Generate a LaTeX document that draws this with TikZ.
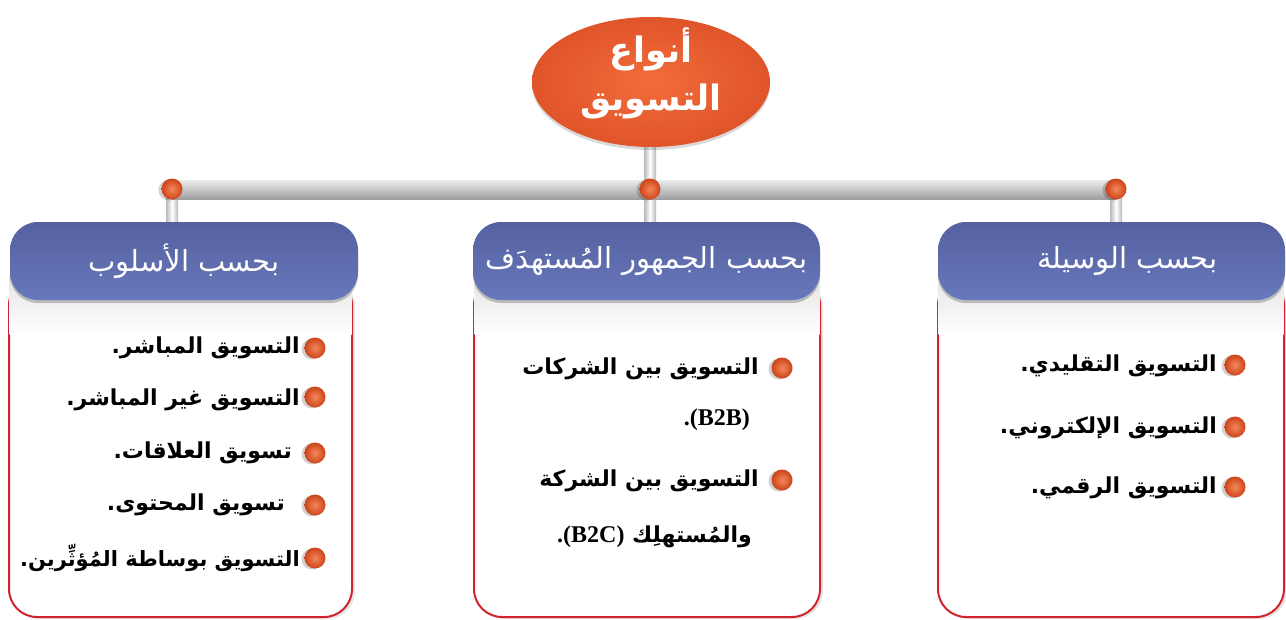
\documentclass[tikz,border=0pt]{standalone}
\usepackage{fontspec}
\usetikzlibrary{shapes.geometric,backgrounds,calc,shadows}
\TeXXeTstate=1
\newfontfamily\arfont[Script=Arabic]{DejaVu Sans}
\newfontfamily\latfont{Liberation Serif}
\definecolor{orangeL}{HTML}{F26C3A}
\definecolor{orangeD}{HTML}{E0542A}
\definecolor{hdrtop}{HTML}{55619F}
\definecolor{hdrbot}{HTML}{6878BC}
\definecolor{boxred}{HTML}{D2232E}
\definecolor{dotL}{HTML}{F5875A}
\definecolor{dotD}{HTML}{CC4419}
\tikzset{
  hdr/.style={draw=none, rounded corners=28pt, minimum width=347pt, minimum height=78pt,
    top color=hdrtop, bottom color=hdrbot,
    general shadow={fill=black, opacity=.22, shadow yshift=-3pt}},
  hdrtxt/.style={text=white, inner sep=0pt, font=\arfont\fontsize{29}{34}\selectfont},
  cbox/.style={draw=boxred, line width=2pt, fill=white, rounded corners=28pt,
    minimum width=346pt, minimum height=340pt,
    general shadow={fill=black, opacity=.10, shadow xshift=3pt, shadow yshift=-2pt}},
  dotn/.style={circle, minimum size=21pt, inner sep=0pt, inner color=dotL, outer color=dotD,
    general shadow={fill=black, opacity=.18, shadow xshift=-3pt, shadow yshift=-1pt}},
  bul/.style={dotn},
  itm/.style={anchor=east, inner sep=0pt, font=\arfont\bfseries\fontsize{22}{26}\selectfont},
  stubfill/.style={left color=gray!55, right color=gray!55, middle color=white},
  barfill/.style={top color=gray!15, bottom color=gray!75},
}
\begin{document}
\begin{tikzpicture}[x=1pt,y=-1pt]
\useasboundingbox (0,0) rectangle (1286,619);

% content boxes
\node[cbox, minimum width=343pt] (bL) at (180.5,447) {};
\node[cbox] (bM) at (647,447) {};
\node[cbox] (bR) at (1111,447) {};
\foreach \b in {bL,bM,bR}{
  \fill[top color=gray!22, bottom color=white] ($(\b.north west)+(1.5,0)$) rectangle ($(\b.north east)+(-1.5,58)$);
}

% headers
\node[hdr, minimum width=348pt] (hL) at (184,261) {};
\node[hdr] (hM) at (646.5,261) {};
\node[hdr] (hR) at (1111.5,261) {};
\node[hdrtxt] (hLt) at (hL) {\beginR بحسب الأسلوب\endR};
\node[hdrtxt] (hMt) at (hM) {\beginR بحسب الجمهور المُستهدَف\endR};
\node[hdrtxt] (hRt) at ($(hR)+(16,0)$) {\beginR بحسب الوسيلة\endR};

% title
\node[ellipse, minimum width=238pt, minimum height=130pt, inner color=orangeL, outer color=orangeD,
  general shadow={fill=black, opacity=.15, shadow yshift=-3pt}] (title) at (651,82) {};
\node[text=white, align=center, inner sep=0pt, font=\arfont\bfseries\fontsize{35}{48}\selectfont]
  (titletxt) at (651,73) {\beginR أنواع\endR\\\beginR التسويق\endR};

% dots
\node[dotn] (dL) at (172,189) {};
\node[dotn] (dM) at (650,189) {};
\node[dotn] (dR) at (1116,189) {};

% connectors
\begin{scope}[on background layer]
  \fill[white] (0,0) rectangle (1286,619);
  \fill[stubfill] ($(dL.center)+(-6,0)$) rectangle ($(hL.north -| dL.center)+(6,8)$);
  \fill[stubfill] ($(dR.center)+(-6,0)$) rectangle ($(hR.north -| dR.center)+(6,8)$);
  \fill[stubfill] ($(title.south -| dM.center)+(-6,-10)$) rectangle ($(hM.north -| dM.center)+(6,8)$);
  \fill[barfill] ($(dL.center)+(0,-9)$) rectangle ($(dR.center)+(0,10)$);
\end{scope}

% left items
\node[bul] (l1) at (315,348) {};
\node[bul] (l2) at (315,397) {};
\node[bul] (l3) at (315,453) {};
\node[bul] (l4) at (315,505) {};
\node[bul] (l5) at (315,558) {};
\node[itm] (lt1) at (300,348) {.\beginR التسويق المباشر\endR};
\node[itm] (lt2) at (300,400) {.\beginR التسويق غير المباشر\endR};
\node[itm] (lt3) at (292,453) {.\beginR تسويق العلاقات\endR};
\node[itm] (lt4) at (285,505) {.\beginR تسويق المحتوى\endR};
\node[itm, font=\arfont\bfseries\fontsize{21}{26}\selectfont] (lt5) at (300,558) {.\beginR التسويق بوساطة المُؤثِّرين\endR};

% middle items
\node[bul] (m1) at (782,368) {};
\node[bul] (m2) at (782,480) {};
\node[itm] (mt1) at (759,369) {\beginR التسويق بين الشركات\endR};
\node[itm, font=\latfont\bfseries\fontsize{24}{28}\selectfont] (mt2) at (750,420) {.(B2B)};
\node[itm] (mt3) at (759,481) {\beginR التسويق بين الشركة\endR};
\node[itm] (mt4) at (752,537) {{\latfont\fontsize{24}{28}\selectfont.(B2C)}\ \beginR والمُستهلِك\endR};

% right items
\node[bul] (r1) at (1235,365) {};
\node[bul] (r2) at (1235,427) {};
\node[bul] (r3) at (1235,487) {};
\node[itm] (rt1) at (1217,366) {.\beginR التسويق التقليدي\endR};
\node[itm] (rt2) at (1217,428) {.\beginR التسويق الإلكتروني\endR};
\node[itm] (rt3) at (1217,488) {.\beginR التسويق الرقمي\endR};
\end{tikzpicture}
\end{document}
